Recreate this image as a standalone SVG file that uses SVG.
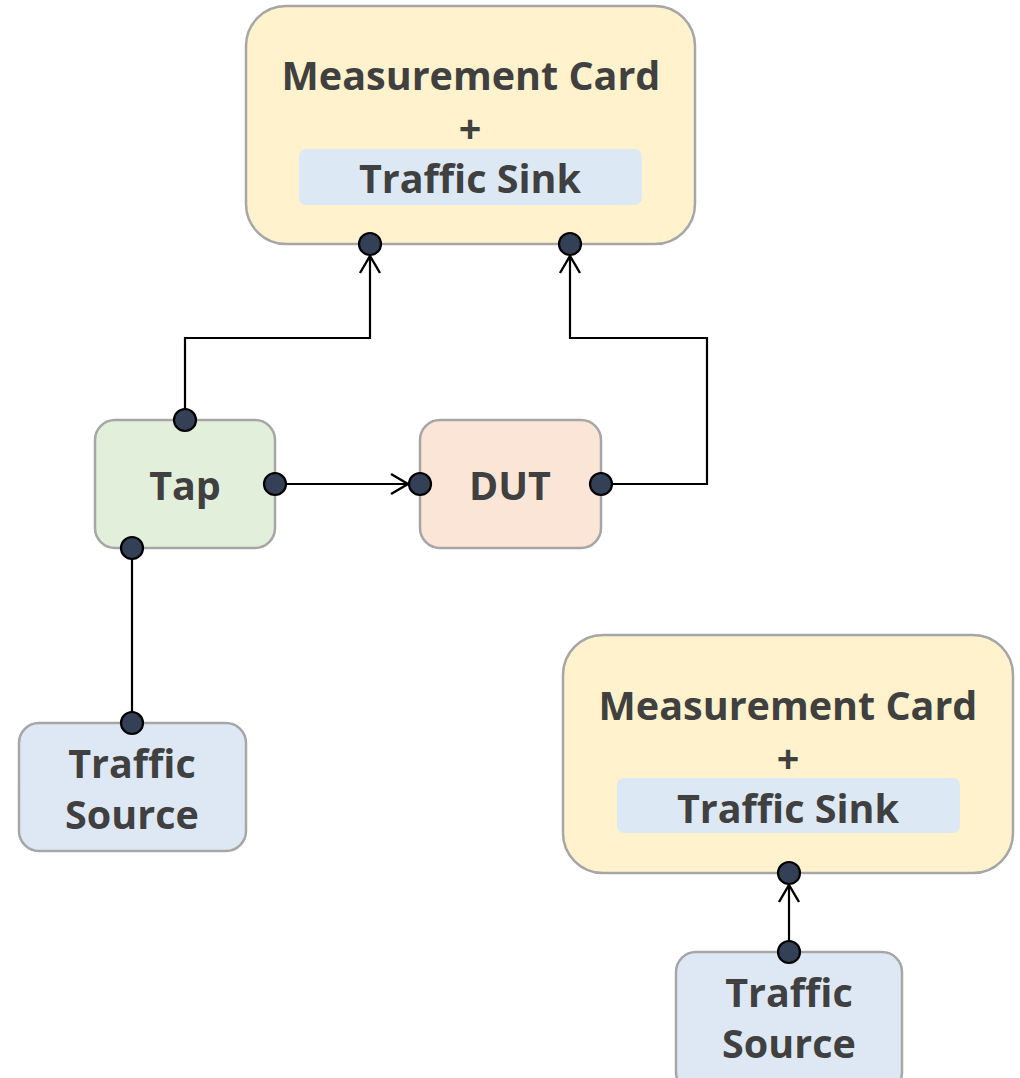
<svg xmlns="http://www.w3.org/2000/svg" width="1020" height="1078" viewBox="0 0 1020 1078">
  <defs>
    <style>
      .box { stroke: #a6a6a6; stroke-width: 2.5; }
      .card { fill: #fff2cc; }
      .sink { fill: #dde8f5; }
      .src { fill: #dee8f5; }
      .tap { fill: #e2efda; }
      .dut { fill: #fbe5d6; }
      .lbl { font-family: "Open Sans", "Noto Sans", "DejaVu Sans", sans-serif; font-weight: 700; fill: #404040; text-anchor: middle; font-size: 39.5px; }
      .port { fill: #344055; stroke: #000; stroke-width: 2.2; }
      .wire { fill: none; stroke: #000; stroke-width: 2.2; }
    </style>
    <!-- open chevron head; tip sits on the port edge -->
    <marker id="arrow" viewBox="0 0 20 24" refX="18" refY="12" markerWidth="20" markerHeight="24" markerUnits="userSpaceOnUse" orient="auto">
      <path d="M1,2 L18,12 L1,22" fill="none" stroke="#000" stroke-width="2.4"/>
    </marker>
  </defs>

  <g id="connectors">
    <path class="wire" d="M185,420 V338 H370 V256" marker-end="url(#arrow)"/>
    <path class="wire" d="M601,484 H707 V338 H570 V256" marker-end="url(#arrow)"/>
    <path class="wire" d="M275,484 H408" marker-end="url(#arrow)"/>
    <path class="wire" d="M132,548 V723"/>
    <path class="wire" d="M789,952 V885" marker-end="url(#arrow)"/>
  </g>

  <g id="card-top">
    <rect class="box card" x="246" y="6" width="449" height="238" rx="40"/>
    <rect class="sink" x="299" y="149" width="343" height="56" rx="7"/>
    <text class="lbl" x="471" y="90">Measurement Card</text>
    <text class="lbl" x="470" y="143">+</text>
    <text class="lbl" x="470" y="193">Traffic Sink</text>
    <circle class="port" cx="370" cy="244" r="11"/>
    <circle class="port" cx="570" cy="244" r="11"/>
  </g>

  <g id="tap">
    <rect class="box tap" x="95" y="420" width="180" height="128" rx="20"/>
    <text class="lbl" x="185" y="500">Tap</text>
    <circle class="port" cx="185" cy="420" r="11"/>
    <circle class="port" cx="275" cy="484" r="11"/>
    <circle class="port" cx="132" cy="548" r="11"/>
  </g>

  <g id="dut">
    <rect class="box dut" x="420" y="420" width="181" height="128" rx="20"/>
    <text class="lbl" x="510" y="500">DUT</text>
    <circle class="port" cx="420" cy="484" r="11"/>
    <circle class="port" cx="601" cy="484" r="11"/>
  </g>

  <g id="source-left">
    <rect class="box src" x="19" y="723" width="227" height="128" rx="20"/>
    <text class="lbl" x="132" y="778">Traffic</text>
    <text class="lbl" x="132" y="829">Source</text>
    <circle class="port" cx="132" cy="723" r="11"/>
  </g>

  <g id="card-bottom">
    <rect class="box card" x="563" y="635" width="450" height="238" rx="40"/>
    <rect class="sink" x="617" y="778" width="343" height="55" rx="7"/>
    <text class="lbl" x="788" y="720">Measurement Card</text>
    <text class="lbl" x="788" y="773">+</text>
    <text class="lbl" x="788" y="823">Traffic Sink</text>
    <circle class="port" cx="789" cy="873" r="11"/>
  </g>

  <g id="source-right">
    <rect class="box src" x="676" y="952" width="226" height="140" rx="20"/>
    <text class="lbl" x="789" y="1007">Traffic</text>
    <text class="lbl" x="789" y="1058">Source</text>
    <circle class="port" cx="789" cy="952" r="11"/>
  </g>
</svg>
